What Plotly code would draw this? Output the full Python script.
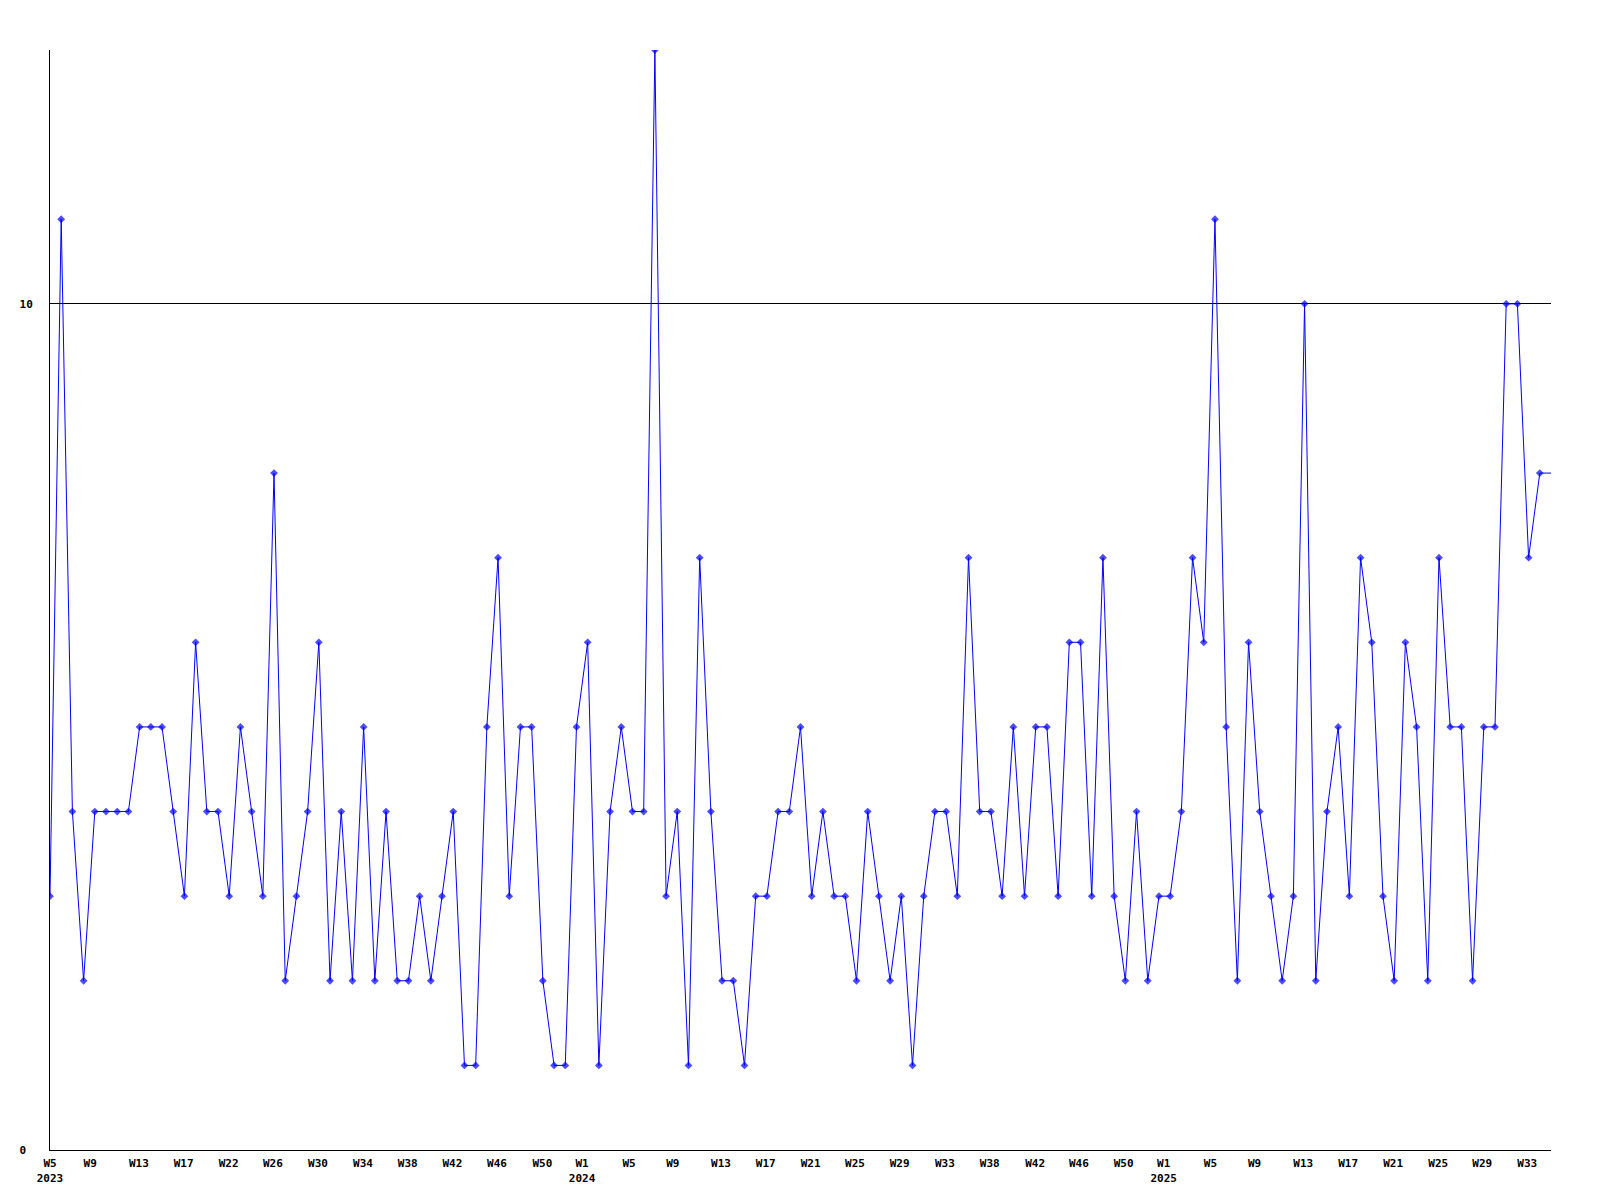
import datetime
import plotly.graph_objects as go

# ---- data -------------------------------------------------------------
# weekly counts, starting at ISO week 2023-W05 (last entry = running week)
values = [3, 11, 4, 2, 4, 4, 4, 4, 5, 5,
          5, 4, 3, 6, 4, 4, 3, 5, 4, 3,
          8, 2, 3, 4, 6, 2, 4, 2, 5, 2,
          4, 2, 2, 3, 2, 3, 4, 1, 1, 5,
          7, 3, 5, 5, 2, 1, 1, 5, 6, 1,
          4, 5, 4, 4, 13, 3, 4, 1, 7, 4,
          2, 2, 1, 3, 3, 4, 4, 5, 3, 4,
          3, 3, 2, 4, 3, 2, 3, 1, 3, 4,
          4, 3, 7, 4, 4, 3, 5, 3, 5, 5,
          3, 6, 6, 3, 7, 3, 2, 4, 2, 3,
          3, 4, 7, 6, 11, 5, 2, 6, 4, 3,
          2, 3, 10, 2, 4, 5, 3, 7, 6, 3,
          2, 6, 5, 2, 7, 5, 5, 2, 5, 5,
          10, 10, 7, 8, 8]

start_year, start_week = 2023, 5

# x-axis tick labels as printed on the chart
tick_labels = ["W5<br>2023", "W9", "W13", "W17", "W22", "W26", "W30", "W34",
               "W38", "W42", "W46", "W50",
               "W1<br>2024", "W5", "W9", "W13", "W17", "W21", "W25", "W29",
               "W33", "W38", "W42", "W46", "W50",
               "W1<br>2025", "W5", "W9", "W13", "W17", "W21", "W25", "W29",
               "W33"]

# y-axis tick labels
y_tick_vals = [0, 10]
y_tick_text = ["0\u00a0", "10"]

# ---- layout helpers (positions of the tick labels, in weeks from start) --
tick_pos = [0.0, 3.59, 7.93, 11.93, 15.95, 19.90, 23.92, 27.94,
            31.94, 35.92, 39.91, 43.96,
            47.5, 51.69, 55.6, 59.9, 63.9, 67.9, 71.86, 75.85,
            79.89, 83.89, 87.95, 91.85, 95.85,
            99.42, 103.6, 107.54, 111.88, 115.89, 119.91, 123.93, 127.86,
            131.88]

n = len(values)
x_idx = list(range(n))
monday0 = datetime.date.fromisocalendar(start_year, start_week, 1)
week_names = []
for i in range(n):
    d = monday0 + datetime.timedelta(days=7 * i)
    y, w, _ = d.isocalendar()
    week_names.append(f"{y}-W{w:02d}")

marker_sizes = [6] * (n - 1) + [0]

font_family = "DejaVu Sans Mono, Liberation Mono, monospace"

fig = go.Figure()
fig.add_trace(go.Scatter(
    x=x_idx, y=values, mode="lines+markers",
    line=dict(color="#0000FF", width=1),
    marker=dict(symbol="diamond", size=marker_sizes, color="#0000FF",
                line=dict(width=0)),
    text=week_names, hovertemplate="%{text}: %{y}<extra></extra>",
    showlegend=False,
))

fig.update_layout(
    width=1600, height=1200, autosize=False,
    margin=dict(l=50, r=49, t=50, b=50, pad=0),
    paper_bgcolor="white", plot_bgcolor="white",
    font=dict(family=font_family, size=11, color="black"),
)

fig.update_xaxes(
    range=[0, n - 1], showgrid=False, zeroline=False,
    showline=True, linecolor="black", linewidth=1,
    tickmode="array", tickvals=tick_pos, ticktext=tick_labels,
    ticks="", ticklabelstandoff=3,
    tickfont=dict(family=font_family, size=11, color="black", weight=700),
)
fig.update_yaxes(
    range=[0, 13], showgrid=True, gridcolor="black", gridwidth=1,
    zeroline=False, showline=True, linecolor="black", linewidth=1,
    tickmode="array", tickvals=y_tick_vals, ticktext=y_tick_text,
    ticks="", ticklabelstandoff=14,
    tickfont=dict(family=font_family, size=11, color="black", weight=700),
)

fig.write_html("out.html", config={"displayModeBar": False},
               post_script="document.body.style.margin='0';")
